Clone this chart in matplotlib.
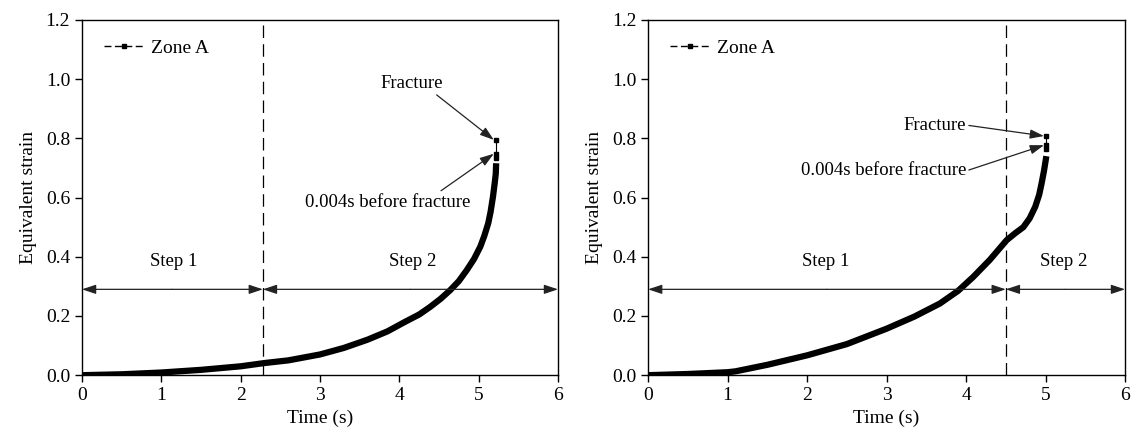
import matplotlib
matplotlib.use("Agg")
import matplotlib.pyplot as plt
from matplotlib.lines import Line2D

plt.rcParams['font.family'] = ['Liberation Serif', 'DejaVu Serif']

# left panel: zone A, step change at 2.28 s
time_a = [0, 0.5, 1.0, 1.5, 2.0, 2.3, 2.6, 3.0, 3.3, 3.6, 3.85, 4.07, 4.25,
          4.39, 4.52, 4.64, 4.75, 4.85, 4.94, 5.02, 5.07, 5.12, 5.15, 5.18,
          5.2, 5.215, 5.22]
strain_a = [0, 0.003, 0.009, 0.018, 0.030, 0.041, 0.050, 0.070, 0.092, 0.12,
            0.148, 0.18, 0.205, 0.231, 0.258, 0.287, 0.318, 0.355, 0.392,
            0.434, 0.47, 0.513, 0.552, 0.603, 0.645, 0.68, 0.716]
end_time_a = [5.22, 5.22, 5.22]
end_strain_a = [0.735, 0.748, 0.795]
switch_a = 2.28

# right panel: zone A, step change at 4.5 s
time_b = [0, 0.5, 1.0, 1.1, 1.5, 2.0, 2.5, 3.0, 3.35, 3.67, 3.9, 4.09, 4.3,
          4.51, 4.62, 4.72, 4.8, 4.87, 4.92, 4.95, 4.98, 5.01]
strain_b = [0, 0.004, 0.010, 0.013, 0.035, 0.067, 0.105, 0.157, 0.198, 0.242,
            0.285, 0.332, 0.39, 0.456, 0.48, 0.50, 0.53, 0.569, 0.61, 0.648,
            0.69, 0.74]
end_time_b = [5.01, 5.01, 5.01]
end_strain_b = [0.765, 0.777, 0.808]
switch_b = 4.5

step_y = 0.29
label_y = 0.355

fig = plt.figure(figsize=(11.37, 4.44), dpi=100)
ax1 = fig.add_axes([0.0721, 0.155, 0.4187, 0.8])
ax2 = fig.add_axes([0.570, 0.155, 0.4195, 0.8])

arrow_kw = dict(arrowstyle='-|>,head_length=0.6,head_width=0.2', color='#222222',
                lw=0.9, mutation_scale=14, shrinkA=0, shrinkB=0)


def draw_panel(ax, t, v, te, ve, sw, steps, notes):
    ax.plot(t, v, color='k', lw=4.5, solid_capstyle='butt', solid_joinstyle='round')
    ax.plot(te, ve, color='k', lw=0.8, marker='s', markersize=3.2)
    ax.axvline(sw, color='k', lw=0.9, ls=(0, (10, 5)))

    # step arrows, heads at both ends of each step
    for a, b in [(0, sw), (sw, 6)]:
        mid = 0.5 * (a + b)
        ax.annotate('', xy=(a, step_y), xytext=(mid, step_y), arrowprops=arrow_kw)
        ax.annotate('', xy=(b, step_y), xytext=(mid, step_y), arrowprops=arrow_kw)
    for txt, xc in steps:
        ax.text(xc, label_y, txt, ha='center', va='bottom', fontsize=13.5)

    (fx, fy, fha), (bx, by, bha), (rel_f, rel_b) = notes
    ax.annotate('Fracture', xy=(te[-1] - 0.03, ve[-1]), xytext=(fx, fy),
                ha=fha, va='center', fontsize=13.5,
                arrowprops=dict(arrow_kw, relpos=rel_f))
    ax.annotate('0.004s before fracture', xy=(te[1] - 0.03, ve[1]), xytext=(bx, by),
                ha=bha, va='center', fontsize=13.5,
                arrowprops=dict(arrow_kw, relpos=rel_b))

    ax.set_xlim(0, 6)
    ax.set_ylim(0, 1.2)
    ax.set_xticks(range(7))
    ax.set_yticks([0, 0.2, 0.4, 0.6, 0.8, 1.0, 1.2])
    ax.set_yticklabels(['0.0', '0.2', '0.4', '0.6', '0.8', '1.0', '1.2'])
    ax.tick_params(direction='out', length=5, width=1, labelsize=14,
                   top=False, right=False)
    for s in ax.spines.values():
        s.set_linewidth(1)
    ax.set_xlabel('Time (s)', fontsize=14, labelpad=4)
    ax.set_ylabel('Equivalent strain', fontsize=14, labelpad=6)

    handle = Line2D([], [], color='k', lw=1, ls=(0, (5, 2.5)), marker='s', markersize=3.5)
    ax.legend([handle], ['Zone A'], loc='upper left', frameon=False, fontsize=14,
              handlelength=2.0, handletextpad=0.4, borderaxespad=0.5,
              bbox_to_anchor=(0.01, 0.995))


draw_panel(ax1, time_a, strain_a, end_time_a, end_strain_a, switch_a,
           [('Step 1', 1.15), ('Step 2', 4.17)],
           [(4.15, 0.985, 'center'), (3.85, 0.585, 'center'),
            ((0.85, 0.0), (0.8, 1.0))])
draw_panel(ax2, time_b, strain_b, end_time_b, end_strain_b, switch_b,
           [('Step 1', 2.24), ('Step 2', 5.23)],
           [(4.0, 0.845, 'right'), (4.0, 0.69, 'right'),
            ((1.0, 0.5), (1.0, 0.5))])

fig.savefig('out.png', dpi=100)
